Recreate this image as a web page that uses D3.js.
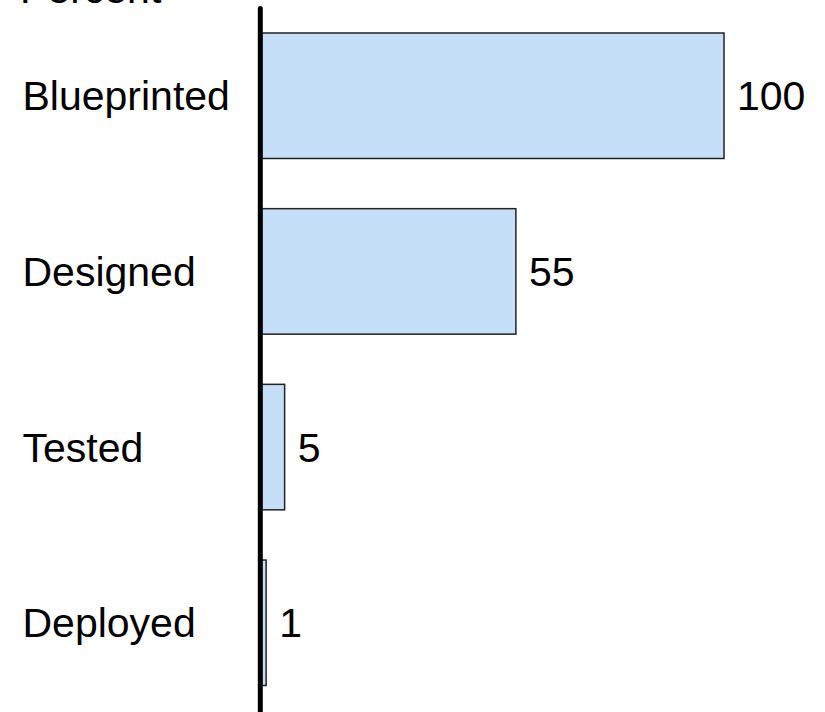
<!DOCTYPE html>
<html>
<head>
<meta charset="utf-8">
<script src="https://cdn.jsdelivr.net/npm/d3@7/dist/d3.min.js"></script>
<style>
  html, body { margin: 0; padding: 0; background: #fff; }
  svg { display: block; }
  text { font-family: "Liberation Sans", Arial, sans-serif; fill: #000; }
</style>
</head>
<body>
<div id="chart"></div>
<script>
// Progress stages and the percent reached at each stage
const stages = ["Blueprinted", "Designed", "Tested", "Deployed"];
const percents = [100, 55, 5, 1];
const axisTitle = "Percent";

const width = 825, height = 712;
const fontSize = 41;

const svg = d3.select("#chart").append("svg")
  .attr("width", width)
  .attr("height", height);

const x = d3.scaleLinear().domain([0, 100]).range([261.5, 724]);
const y = d3.scaleBand()
  .domain(stages)
  .range([33, 685.5])
  .paddingInner(0.2857)
  .paddingOuter(0);

// Bars
svg.append("g").selectAll("rect")
  .data(stages)
  .join("rect")
  .attr("x", x(0))
  .attr("y", d => y(d))
  .attr("width", (d, i) => x(percents[i]) - x(0))
  .attr("height", y.bandwidth())
  .attr("fill", "#c6dff8")
  .attr("stroke", "#222")
  .attr("stroke-width", 1.5);

// Vertical axis line
svg.append("line")
  .attr("x1", 260.3).attr("x2", 260.3)
  .attr("y1", 8.5).attr("y2", height + 5)
  .attr("stroke", "#000")
  .attr("stroke-width", 5)
  .attr("stroke-linecap", "round");

// Category labels
svg.append("g").selectAll("text")
  .data(stages)
  .join("text")
  .attr("x", 22.5)
  .attr("y", d => y(d) + y.bandwidth() / 2)
  .attr("dy", "0.355em")
  .attr("font-size", fontSize)
  .text(d => d);

// Value labels
svg.append("g").selectAll("text")
  .data(stages)
  .join("text")
  .attr("x", (d, i) => x(percents[i]) + 13)
  .attr("y", d => y(d) + y.bandwidth() / 2)
  .attr("dy", "0.355em")
  .attr("font-size", fontSize)
  .text((d, i) => percents[i]);

// Axis title, partly above the top edge
svg.append("text")
  .attr("x", 20)
  .attr("y", 3)
  .attr("font-size", fontSize)
  .text(axisTitle);
</script>
</body>
</html>
